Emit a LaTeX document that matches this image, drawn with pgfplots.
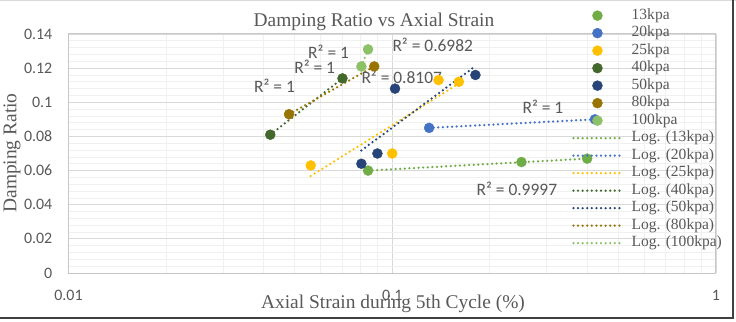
\documentclass[border=0pt]{standalone}
\usepackage{fontspec}
\setmainfont{Liberation Serif}
\newfontfamily\carlito{Carlito}
\usepackage{pgfplots}
\pgfplotsset{compat=1.18}
\definecolor{c13}{HTML}{70AD47}
\definecolor{c20}{HTML}{4472C4}
\definecolor{c25}{HTML}{FFC000}
\definecolor{c40}{HTML}{43682B}
\definecolor{c50}{HTML}{264478}
\definecolor{c80}{HTML}{997300}
\definecolor{c100}{HTML}{8CC168}
\definecolor{txtgray}{HTML}{595959}
\begin{document}
\begin{tikzpicture}
\useasboundingbox (0,0) rectangle (736bp,322bp);
\fill[white] (0,0) rectangle (736bp,322bp);
\draw[black!15, line width=1bp] (0,321.5bp) -- (736bp,321.5bp);
\draw[black!75, line width=1.5bp] (0,4bp) -- (733bp,4bp) -- (733bp,322bp);
\pgfplotsset{
  scat/.style={only marks, mark=*, mark size=5bp, draw=#1, fill=#1, mark options={draw=#1, fill=#1},
    legend image code/.code={\draw[mark repeat=2,mark phase=2,##1] plot coordinates {(0bp,0bp) (24bp,0bp) (48bp,0bp)};}},
  tl/.style={draw=#1, line width=2.5bp, dash pattern=on 0bp off 4.6bp, line cap=round, no marks,
    legend image code/.code={\draw[##1] (0bp,0bp) -- (48bp,0bp);}},
}
\begin{axis}[
  at={(68.5bp,49bp)}, anchor=south west,
  scale only axis, width=647.5bp, height=239bp,
  xmode=log, xmin=0.01, xmax=1, ymin=0, ymax=0.14,
  xtick={0.01,0.1,1}, xticklabels={0.01,0.1,1},
  minor xtick={0.02,0.03,0.04,0.05,0.06,0.07,0.08,0.09,0.2,0.3,0.4,0.5,0.6,0.7,0.8,0.9},
  ytick={0,0.02,0.04,0.06,0.08,0.1,0.12,0.14},
  yticklabels={0,0.02,0.04,0.06,0.08,0.1,0.12,0.14},
  minor y tick num=4,
  grid=both,
  major grid style={draw=black!15, line width=0.75bp},
  minor grid style={draw=black!6, line width=0.75bp},
  axis line style={draw=black!22, line width=1bp},
  major tick length=0pt, minor tick length=0pt,
  tick label style={font=\carlito\fontsize{16}{19}\selectfont, text=txtgray},
  yticklabel style={inner sep=0pt, xshift=-16bp},
  xticklabel style={inner sep=0pt, yshift=-17bp},
  clip=false,
  legend cell align=left,
  legend style={at={(axis description cs:0.7776,1.109)}, anchor=north west,
    draw=none, fill=none, inner sep=0pt, row sep=2.5bp, column sep=9bp,
    font=\fontsize{15.6}{17}\selectfont, text=txtgray,
    nodes={inner sep=0pt, text height=11bp, text depth=4bp}},
]
% trendlines (log fits, straight on log-x axis)
\addplot[tl=c13, forget plot] coordinates {(0.0842,0.0600) (0.41,0.0671)};
\addplot[tl=c20, forget plot] coordinates {(0.130,0.085) (0.4227,0.090)};
\addplot[tl=c25, forget plot] coordinates {(0.056,0.0568) (0.1606,0.1110)};
\addplot[tl=c40, forget plot] coordinates {(0.042,0.081) (0.0702,0.114)};
\addplot[tl=c50, forget plot] coordinates {(0.0803,0.0718) (0.1807,0.1212)};
\addplot[tl=c80, forget plot] coordinates {(0.048,0.093) (0.088,0.121)};
\addplot[tl=c100, forget plot] coordinates {(0.0803,0.121) (0.0842,0.131)};
% data
\addplot[scat=c13] coordinates {(0.0842,0.060) (0.2507,0.065) (0.40,0.067)};
\addlegendentry{13kpa}
\addplot[scat=c20] coordinates {(0.130,0.085) (0.4227,0.090)};
\addlegendentry{20kpa}
\addplot[scat=c25] coordinates {(0.056,0.063) (0.100,0.070) (0.139,0.113) (0.1606,0.112)};
\addlegendentry{25kpa}
\addplot[scat=c40] coordinates {(0.042,0.081) (0.0702,0.114)};
\addlegendentry{40kpa}
\addplot[scat=c50] coordinates {(0.0803,0.064) (0.090,0.070) (0.102,0.108) (0.1807,0.116)};
\addlegendentry{50kpa}
\addplot[scat=c80] coordinates {(0.048,0.093) (0.088,0.121)};
\addlegendentry{80kpa}
\addplot[scat=c100] coordinates {(0.0803,0.121) (0.0842,0.131)};
\addlegendentry{100kpa}
\addlegendimage{tl=c13}\addlegendentry{Log. (13kpa)}
\addlegendimage{tl=c20}\addlegendentry{Log. (20kpa)}
\addlegendimage{tl=c25}\addlegendentry{Log. (25kpa)}
\addlegendimage{tl=c40}\addlegendentry{Log. (40kpa)}
\addlegendimage{tl=c50}\addlegendentry{Log. (50kpa)}
\addlegendimage{tl=c80}\addlegendentry{Log. (80kpa)}
\addlegendimage{tl=c100}\addlegendentry{Log. (100kpa)}
% R^2 labels
\begin{scope}[every node/.style={font=\carlito\fontsize{17.5}{20}\selectfont, text=txtgray}]
\node at (axis cs:0.0433,0.1096) {R² = 1};
\node at (axis cs:0.0576,0.1207) {R² = 1};
\node at (axis cs:0.0636,0.1295) {R² = 1};
\node at (axis cs:0.1334,0.1336) {R² = 0.6982};
\node at (axis cs:0.107,0.1148) {R² = 0.8107};
\node at (axis cs:0.292,0.0972) {R² = 1};
\node at (axis cs:0.2426,0.0492) {R² = 0.9997};
\end{scope}
\end{axis}
\node[anchor=base, font=\fontsize{19.5}{22}\selectfont, text=txtgray] at (374bp,295bp) {Damping Ratio vs Axial Strain};
\node[anchor=base, font=\fontsize{19.5}{22}\selectfont, text=txtgray] at (393bp,14bp) {Axial Strain during 5th Cycle (\%)};
\node[rotate=90, font=\fontsize{19.5}{22}\selectfont, text=txtgray] at (12bp,169bp) {Damping Ratio};
\end{tikzpicture}
\end{document}
